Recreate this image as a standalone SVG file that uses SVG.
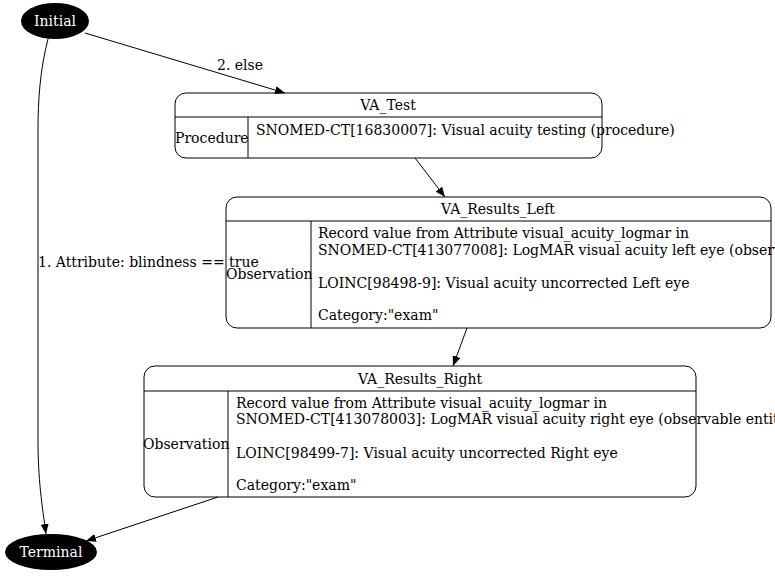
<svg xmlns="http://www.w3.org/2000/svg" width="775" height="576" viewBox="0 0 775 576">
<defs>
<marker id="arr" markerWidth="10" markerHeight="8" refX="10" refY="4" orient="auto" markerUnits="userSpaceOnUse">
<path d="M0,0 L10,4 L0,8 Z" fill="#000"/>
</marker>
<style>
text{font-family:"DejaVu Serif",serif;font-size:14px;fill:#000}
.w{fill:#fff}
.c{text-anchor:middle}
.box{fill:#fff;stroke:#000;stroke-width:1}
.ln{stroke:#000;stroke-width:1;fill:none}
.e{fill:none;stroke:#000;stroke-width:1;marker-end:url(#arr)}
</style>
</defs>
<rect width="775" height="576" fill="#fff"/>
<g id="Initial">
<ellipse cx="55" cy="21" rx="34" ry="18" fill="#000"/>
<text x="55" y="26" class="c w">Initial</text>
</g>
<g id="Terminal">
<ellipse cx="51" cy="552" rx="46" ry="18" fill="#000"/>
<text x="51" y="557" class="c w">Terminal</text>
</g>
<g id="VA_Test">
<rect class="box" x="175" y="93" width="427" height="65" rx="11"/>
<line class="ln" x1="175" y1="117" x2="602" y2="117"/>
<line class="ln" x1="248" y1="117" x2="248" y2="158"/>
<text x="388" y="110" class="c">VA_Test</text>
<text x="175" y="143">Procedure</text>
<text x="256" y="135">SNOMED-CT[16830007]: Visual acuity testing (procedure)</text>
</g>
<g id="VA_Results_Left">
<rect class="box" x="226" y="197" width="545" height="131" rx="11"/>
<line class="ln" x1="226" y1="221" x2="771" y2="221"/>
<line class="ln" x1="311" y1="221" x2="311" y2="328"/>
<text x="498" y="214" class="c">VA_Results_Left</text>
<text x="226" y="279">Observation</text>
<text x="318" y="238">Record value from Attribute visual_acuity_logmar in</text>
<text x="318" y="255">SNOMED-CT[413077008]: LogMAR visual acuity left eye (observable entity)</text>
<text x="318" y="288">LOINC[98498-9]: Visual acuity uncorrected Left eye</text>
<text x="318" y="320">Category:"exam"</text>
</g>
<g id="VA_Results_Right">
<rect class="box" x="144" y="366" width="552" height="131" rx="11"/>
<line class="ln" x1="144" y1="391" x2="696" y2="391"/>
<line class="ln" x1="228" y1="391" x2="228" y2="497"/>
<text x="420" y="384" class="c">VA_Results_Right</text>
<text x="143" y="449">Observation</text>
<text x="236" y="408">Record value from Attribute visual_acuity_logmar in</text>
<text x="236" y="424">SNOMED-CT[413078003]: LogMAR visual acuity right eye (observable entity)</text>
<text x="236" y="458">LOINC[98499-7]: Visual acuity uncorrected Right eye</text>
<text x="236" y="490">Category:"exam"</text>
</g>
<g id="connectors">
<path class="e" d="M85,33 L285,93"/>
<text x="240" y="70" class="c">2. else</text>
<path class="e" d="M48,39 C40,70 38,100 38,130 L38,440 C38,480 42,505 46,534"/>
<text x="38" y="267">1. Attribute: blindness == true</text>
<path class="e" d="M415,158 L445,197"/>
<path class="e" d="M467,328 L453,366"/>
<path class="e" d="M218,497 L86,541"/>
</g>
</svg>
